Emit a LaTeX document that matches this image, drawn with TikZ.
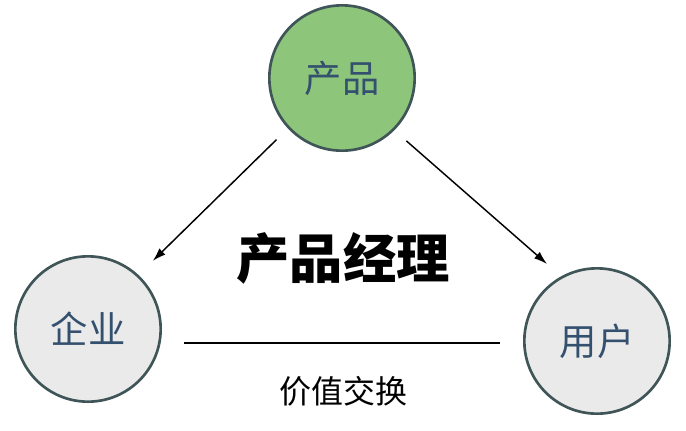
\documentclass[tikz,border=0pt]{standalone}
\usepackage{fontspec}
\newfontfamily\cjk{Noto Sans CJK SC}
\usetikzlibrary{arrows.meta, positioning, calc}

\definecolor{ringgray}{HTML}{3F5558}
\definecolor{leafgreen}{HTML}{8DC57A}
\definecolor{softgray}{HTML}{EBEAEA}
\definecolor{inkblue}{HTML}{34506F}

\begin{document}
\begin{tikzpicture}[
  x=0.75pt, y=-0.75pt,
  party/.style={
    circle,
    draw=ringgray,
    line width=2pt,
    minimum size=109pt,
    inner sep=0pt,
    align=center,
    fill=softgray,
    text=inkblue,
    font=\cjk\fontsize{28}{30}\selectfont
  },
  hub/.style={
    party,
    fill=leafgreen
  },
  arrow/.style={-{Latex[length=10pt, width=6.5pt]}, line width=1.1pt},
  link/.style={line width=1.6pt}
]

\useasboundingbox (0,0) rectangle (686,430);

% ------------------------------------------------------------
% Circles
% ------------------------------------------------------------

\node[hub] (product) at (342,78) {产品};
\node[party] (company) at (88,329) {企业};
\node[party] (user) at (597,341) {用户};

% ------------------------------------------------------------
% Title
% ------------------------------------------------------------

\node[font=\cjk\bfseries\fontsize{40}{42}\selectfont] (pm) at (343,258) {产品经理};

% ------------------------------------------------------------
% Connections
% ------------------------------------------------------------

\draw[arrow, shorten <=12pt, shorten >=15pt] (product.223) -- (company.47);
\draw[arrow, shorten <=12pt, shorten >=14pt] (product.-45) -- (user.119);

\coordinate (xa) at (184,343);
\coordinate (xb) at (500,343);
\draw[link] (xa) -- (xb);

\node[font=\cjk\fontsize{24}{26}\selectfont] (trade) at (343,391) {价值交换};

\end{tikzpicture}
\end{document}
